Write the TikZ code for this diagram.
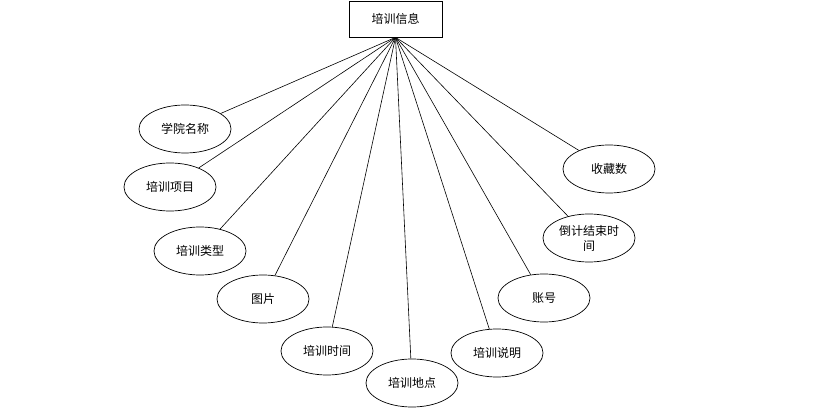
\documentclass[tikz,border=0pt]{standalone}
\usepackage{fontspec}
\usepackage{tikz}
\usetikzlibrary{shapes.geometric}
\newfontfamily\cjk{Noto Sans CJK SC}

\begin{document}
\begin{tikzpicture}[x=1pt,y=-1pt,
  entity/.style={draw,rectangle,minimum width=93pt,minimum height=36pt,font=\cjk\fontsize{12}{14}\selectfont,line width=0.8pt},
  attr/.style={draw,ellipse,minimum width=92pt,minimum height=48pt,inner sep=1pt,font=\cjk\fontsize{12}{15}\selectfont,align=center,line width=0.7pt},
  conn/.style={line width=0.6pt}
]
\useasboundingbox (0,0) rectangle (820,414);

% entity (top)
\node[entity] (info) at (395.5,19) {培训信息};

% attributes (left side)
\node[attr] (college) at (185,129) {学院名称};
\node[attr] (project) at (170,187) {培训项目};
\node[attr] (kind) at (200,251) {培训类型};
\node[attr] (picture) at (263,299) {图片};
\node[attr] (time) at (327,351) {培训时间};
\node[attr] (place) at (412,383) {培训地点};

% attributes (right side)
\node[attr] (note) at (497,353) {培训说明};
\node[attr] (account) at (544,298) {账号};
\node[attr] (countdown) at (589,238) {倒计结束时\\间};
\node[attr] (favs) at (609,169) {收藏数};

% connectors
\foreach \a in {college,project,kind,picture,time,place,note,account,countdown,favs}
  \draw[conn] (info.south) -- (\a);

\end{tikzpicture}
\end{document}
